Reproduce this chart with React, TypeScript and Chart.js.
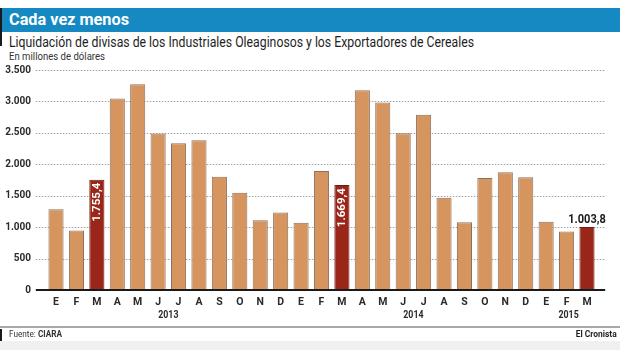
import React, { useEffect, useRef, useState } from "react";
import { Chart, registerables } from "chart.js";

Chart.register(...registerables);

const months = ["E", "F", "M", "A", "M", "J", "J", "A", "S", "O", "N", "D", "E", "F", "M", "A", "M", "J", "J", "A", "S", "O", "N", "D", "E", "F", "M"];
const values = [1285, 948, 1755.4, 3045, 3273, 2489, 2333, 2381, 1803, 1546, 1108, 1231, 1071, 1894, 1669.4, 3179, 2981, 2495, 2788, 1466, 1076, 1782, 1873, 1793, 1087, 931, 1003.8];
const highlighted = [2, 14, 26];
const labelInside = [true, true, false];
const years = ["2013", "2014", "2015"];
const yearPositions = [5.5, 17.5, 25.1];
const yTicks = [0, 500, 1000, 1500, 2000, 2500, 3000, 3500];

const FONT = 'Roboto, "Liberation Sans", sans-serif';
const TAN = "#D6955F";
const TAN_BORDER = "#8C705C";
const RED = "#9A2519";
const RED_BORDER = "#6E1C14";

const fmtInt = (v: number) => String(Math.round(v)).replace(/\B(?=(\d{3})+(?!\d))/g, ".");
const fmtDec = (v: number) => {
  const [i, d] = v.toFixed(1).split(".");
  return i.replace(/\B(?=(\d{3})+(?!\d))/g, ".") + "," + d;
};

const gridPlugin = {
  id: "gridPlugin",
  beforeDatasetsDraw(chart: any) {
    const { ctx, chartArea } = chart;
    const y = chart.scales.y;
    const x0 = chartArea.left - 10;
    const x1 = chartArea.right + 8;
    ctx.save();
    yTicks.forEach((v) => {
      if (v === 0) return;
      const py = Math.round(y.getPixelForValue(v)) + 0.5;
      ctx.strokeStyle = "#a0a0a0";
      ctx.lineWidth = 1;
      ctx.setLineDash([1.5, 1.5]);
      ctx.beginPath();
      ctx.moveTo(x0, py);
      ctx.lineTo(x1, py);
      ctx.stroke();
    });
    ctx.restore();
  },
  afterDatasetsDraw(chart: any) {
    const { ctx, chartArea } = chart;
    const y = chart.scales.y;
    const x = chart.scales.x;
    const py = y.getPixelForValue(0);
    ctx.save();
    ctx.strokeStyle = "#1a1a1a";
    ctx.lineWidth = 2;
    ctx.beginPath();
    ctx.moveTo(chartArea.left - 10, py);
    ctx.lineTo(chartArea.right + 8, py);
    ctx.stroke();

    ctx.fillStyle = "#2a2a2a";
    ctx.font = `bold 11px ${FONT}`;
    ctx.textAlign = "center";
    ctx.textBaseline = "middle";
    years.forEach((yr, i) => {
      const px = x.getPixelForValue(yearPositions[i]);
      ctx.save();
      ctx.translate(px, py + 25);
      ctx.scale(0.8, 1);
      ctx.fillText(yr, 0, 0);
      ctx.restore();
    });

    const meta = chart.getDatasetMeta(0);
    highlighted.forEach((idx, k) => {
      const bar = meta.data[idx];
      const text = fmtDec(values[idx]);
      ctx.save();
      if (labelInside[k]) {
        ctx.translate(bar.x + 0.5, bar.y + 3);
        ctx.rotate(-Math.PI / 2);
        ctx.fillStyle = "#ffffff";
        ctx.font = `bold 11.5px ${FONT}`;
        ctx.textAlign = "right";
        ctx.textBaseline = "middle";
        ctx.fillText(text, 0, 0);
      } else {
        ctx.translate(bar.x, bar.y - 4);
        ctx.scale(0.92, 1);
        ctx.fillStyle = "#1a1a1a";
        ctx.font = `bold 12px ${FONT}`;
        ctx.textAlign = "center";
        ctx.textBaseline = "alphabetic";
        ctx.fillText(text, 0, 0);
      }
      ctx.restore();
    });
    ctx.restore();
  },
};

function BarChart() {
  const ref = useRef<HTMLCanvasElement | null>(null);
  useEffect(() => {
    if (!ref.current) return;
    const colors = values.map((_, i) => (highlighted.includes(i) ? RED : TAN));
    const borders = values.map((_, i) => (highlighted.includes(i) ? RED_BORDER : TAN_BORDER));
    const chart = new Chart(ref.current, {
      type: "bar",
      data: {
        labels: months,
        datasets: [
          {
            data: values,
            backgroundColor: colors,
            borderColor: borders,
            borderWidth: 1,
            barPercentage: 0.74,
            categoryPercentage: 1,
          },
        ],
      },
      options: {
        animation: false,
        responsive: false,
        devicePixelRatio: 1,
        layout: { padding: { top: 70, bottom: 22, left: 0, right: 22.8 } },
        plugins: { legend: { display: false }, tooltip: { enabled: false } },
        scales: {
          x: {
            type: "category",
            offset: true,
            grid: { display: false, drawTicks: false },
            border: { display: false },
            ticks: {
              autoSkip: false,
              maxRotation: 0,
              padding: 6,
              color: "#2a2a2a",
              font: { family: FONT, size: 10.5, weight: "bold" },
            },
            afterFit(s: any) {
              s.height = 38;
            },
          },
          y: {
            min: 0,
            max: 3500,
            grid: { display: false, drawTicks: false },
            border: { display: false },
            afterBuildTicks(s: any) {
              s.ticks = yTicks.map((v) => ({ value: v }));
            },
            ticks: {
              padding: 14.8,
              color: "#2a2a2a",
              font: { family: FONT, size: 10, weight: "bold" },
              callback: (v: any) => fmtInt(Number(v)),
            },
            afterFit(s: any) {
              s.width = 45.8;
            },
          },
        },
      },
      plugins: [gridPlugin],
    } as any);
    return () => chart.destroy();
  }, []);
  return <canvas ref={ref} width={620} height={350} style={{ position: "absolute", left: 0, top: 0, width: 620, height: 350 }} />;
}

type Seg = { text: string; bold?: boolean };

function measure(segs: Seg[], size: number) {
  const c = document.createElement("canvas").getContext("2d");
  if (!c) return 1;
  let w = 0;
  segs.forEach((s) => {
    c.font = `${s.bold ? "bold " : ""}${size}px ${FONT}`;
    w += c.measureText(s.text).width;
  });
  return w;
}

function FitText(props: { segs: Seg[]; size: number; width: number; left?: number; right?: number; top: number; color: string }) {
  const { segs, size, width, left, right, top, color } = props;
  const [scale, setScale] = useState(1);
  useEffect(() => {
    const w = measure(segs, size);
    setScale(width / w);
  }, []);
  return (
    <div
      style={{
        position: "absolute",
        left,
        right,
        top,
        fontSize: size,
        lineHeight: `${size}px`,
        color,
        whiteSpace: "nowrap",
        fontFamily: FONT,
        transform: `scaleX(${scale})`,
        transformOrigin: right !== undefined ? "right top" : "left top",
      }}
    >
      {segs.map((s, i) => (
        <span key={i} style={{ fontWeight: s.bold ? "bold" : "normal" }}>
          {s.text}
        </span>
      ))}
    </div>
  );
}

export default function App() {
  return (
    <div style={{ position: "absolute", left: 0, top: 0, width: 620, height: 350, background: "#ffffff", overflow: "hidden", fontFamily: FONT }}>
      <div style={{ position: "absolute", left: 2, top: 8, width: 618, height: 24, background: "#1689C3" }} />
      <div style={{ position: "absolute", left: 0, top: 8, width: 2, height: 38, background: "#1a1a1a" }} />
      <FitText segs={[{ text: "Cada vez menos", bold: true }]} size={17} width={120} left={9} top={10.7} color="#ffffff" />
      <FitText
        segs={[{ text: "Liquidación de divisas de los Industriales Oleaginosos y los Exportadores de Cereales" }]}
        size={14}
        width={465}
        left={9}
        top={35.2}
        color="#1e1e1e"
      />
      <FitText segs={[{ text: "En millones de dólares" }]} size={11} width={96} left={9} top={50.7} color="#333333" />
      <BarChart />
      <div style={{ position: "absolute", left: 0, top: 326, width: 620, height: 2, background: "#a8a8a8" }} />
      <div style={{ position: "absolute", left: 0, top: 329, width: 2, height: 12, background: "#1a1a1a" }} />
      <FitText segs={[{ text: "Fuente: " }, { text: "CIARA", bold: true }]} size={9} width={53} left={9} top={330} color="#333333" />
      <FitText segs={[{ text: "El Cronista", bold: true }]} size={9} width={41} right={3} top={330} color="#1e1e1e" />
      <div style={{ position: "absolute", left: 0, top: 341, width: 620, height: 9, background: "#f0f0f0" }} />
    </div>
  );
}
